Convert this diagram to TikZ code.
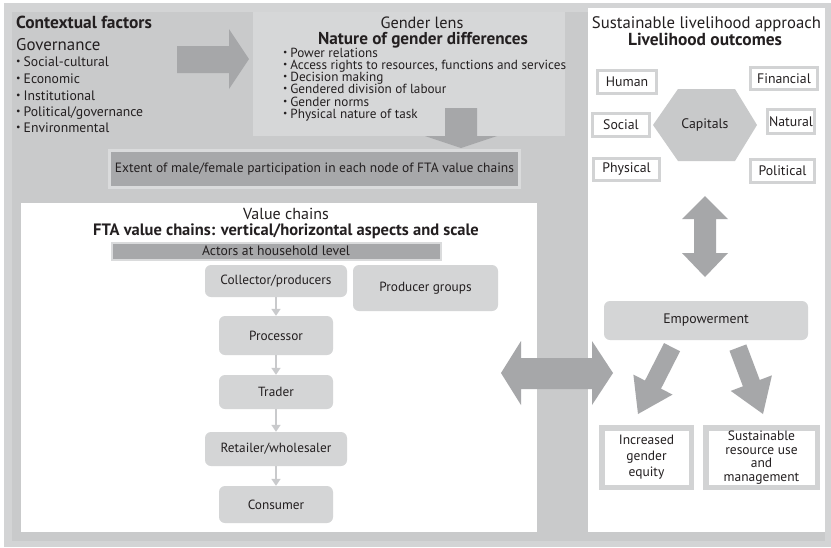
\documentclass[tikz,border=0pt]{standalone}
\usepackage{fontspec}
\setmainfont{PT Sans}
\usetikzlibrary{arrows.meta}
\definecolor{outerbg}{HTML}{D3D4D5}
\definecolor{midbg}{HTML}{C9CACB}
\definecolor{lensbg}{HTML}{D6D7D8}
\definecolor{darkbar}{HTML}{A7A8AA}
\definecolor{arrowgray}{HTML}{A6A7A9}
\definecolor{boxgray}{HTML}{D4D5D6}
\definecolor{hexgray}{HTML}{C8C9CA}
\definecolor{txt}{HTML}{231F20}
\definecolor{capborder}{HTML}{D2D3D4}
\definecolor{barborder}{HTML}{DADBDC}
\definecolor{smallarrow}{HTML}{C9CACC}
\newcommand{\bl}{\raisebox{0.2ex}{\scalebox{0.72}{•}}\hspace{0.22em}}
\newcommand{\fs}[1]{\fontsize{#1}{#1}\selectfont}
\begin{document}
\begin{tikzpicture}[x=1pt,y=-1pt,
  every node/.style={text=txt, inner sep=0pt},
  vcbox/.style={fill=boxgray, rounded corners=6pt, font=\fs{13.3}},
  capbox/.style={fill=white, draw=capborder, line width=3pt, font=\fs{13.8}},
  outbox/.style={fill=white, draw=capborder, line width=5.5pt, align=center},
  bararea/.style={fill=darkbar, draw=barborder},
  smallarr/.style={draw=smallarrow, line width=1.6pt, -{Triangle[length=7pt,width=9pt]}},
  blockarrow/.style={fill=arrowgray},
  listtext/.style={anchor=base west, font=\fs{13.7}},
  lenstext/.style={anchor=base west, font=\fs{13.2}}]
\useasboundingbox (0,0) rectangle (831,547);
% background layers
\fill[outerbg] (4,3) rectangle (831,547);
\fill[midbg] (12,12) rectangle (825,541);
\fill[lensbg] (253,12) rectangle (565,136);
\fill[white] (21,203) rectangle (537,532);
\fill[white] (588,8) rectangle (825,532);

% contextual factors
\node[anchor=base west, font=\bfseries\fs{17.4}] (ctx) at (16,28) {Contextual factors};
\node[anchor=base west, font=\fs{16.9}] (gov) at (16,50) {Governance};
\node[listtext] (c1) at (16,66) {\bl Social-cultural};
\node[listtext] (c2) at (16,83) {\bl Economic};
\node[listtext] (c3) at (16,100) {\bl Institutional};
\node[listtext] (c4) at (16,116) {\bl Political/governance};
\node[listtext] (c5) at (16,132) {\bl Environmental};

% right arrow
\fill[blockarrow] (177,46) -- (229,46) -- (229,29) -- (249,59) -- (229,89) -- (229,73) -- (177,73) -- cycle;

% gender lens
\node[anchor=base, font=\fs{16.3}] (gl) at (422,28) {Gender lens};
\node[anchor=base, font=\bfseries\fs{17.2}] (ngd) at (423,44) {Nature of gender differences};
\node[lenstext] (g1) at (283,57) {\bl Power relations};
\node[lenstext] (g2) at (283,69) {\bl Access rights to resources, functions and services};
\node[lenstext] (g3) at (283,81) {\bl Decision making};
\node[lenstext] (g4) at (283,93) {\bl Gendered division of labour};
\node[lenstext] (g5) at (283,106) {\bl Gender norms};
\node[lenstext] (g6) at (283,118) {\bl Physical nature of task};

% down arrow
\fill[blockarrow] (445,108) -- (477,108) -- (477,136) -- (497,136) -- (461,148) -- (425,136) -- (445,136) -- cycle;

% extent bar
\node[bararea, line width=3pt, minimum width=410pt, minimum height=37pt, font=\fs{13.5}] (ext) at (314.5,169) {Extent of male/female participation in each node of FTA value chains};

% value chains
\node[anchor=base, font=\fs{16}] (vc) at (286,219) {Value chains};
\node[anchor=base, font=\bfseries\fs{16.5}] (fta) at (286,235) {FTA value chains: vertical/horizontal aspects and scale};
\node[bararea, line width=2pt, minimum width=329pt, minimum height=17pt, font=\fs{13.7}] (act) at (276,251) {Actors at household level};

\node[vcbox, minimum width=142pt, minimum height=32pt] (coll) at (276,281) {Collector/producers};
\node[vcbox, minimum width=145pt, minimum height=46pt] (pg) at (425.5,288) {Producer groups};
\node[vcbox, minimum width=114pt, minimum height=39pt] (proc) at (276,335.5) {Processor};
\node[vcbox, minimum width=114pt, minimum height=34pt] (trad) at (276,392) {Trader};
\node[vcbox, minimum width=142pt, minimum height=34pt] (ret) at (276,449) {Retailer/wholesaler};
\node[vcbox, minimum width=114pt, minimum height=37pt] (cons) at (276,504.5) {Consumer};
\draw[smallarr] (coll) -- (proc);
\draw[smallarr] (proc) -- (trad);
\draw[smallarr] (trad) -- (ret);
\draw[smallarr] (ret) -- (cons);

% horizontal double arrow
\fill[blockarrow] (501,373) -- (521,341) -- (521,358) -- (592,358) -- (592,341) -- (613,373) -- (592,405) -- (592,389) -- (521,389) -- (521,405) -- cycle;

% sustainable livelihood
\node[anchor=base, font=\fs{16.7}] (sla) at (706.5,28) {Sustainable livelihood approach};
\node[anchor=base, font=\bfseries\fs{17.4}] (lo) at (705,45) {Livelihood outcomes};
\fill[hexgray] (653,125) -- (678,89) -- (735,89) -- (757,125) -- (735,161) -- (678,161) -- cycle;
\node[font=\fs{13.8}] (capitals) at (705,125) {Capitals};
\node[capbox, minimum width=59pt, minimum height=23pt] (human) at (627,82) {Human};
\node[capbox, minimum width=67pt, minimum height=22pt] (fin) at (784,78.5) {Financial};
\node[capbox, minimum width=57pt, minimum height=23pt] (soc) at (621,125) {Social};
\node[capbox, minimum width=47pt, minimum height=24pt] (nat) at (791,121.5) {Natural};
\node[capbox, minimum width=66pt, minimum height=22pt] (phys) at (626.5,169.5) {Physical};
\node[capbox, minimum width=64pt, minimum height=23pt] (pol) at (782.5,171) {Political};

% vertical double arrow
\fill[blockarrow] (705,196) -- (728,219) -- (716,219) -- (716,253) -- (728,253) -- (705,277) -- (682,253) -- (694,253) -- (694,219) -- (682,219) -- cycle;

\node[vcbox, minimum width=204pt, minimum height=39pt, font=\fs{13.8}] (emp) at (706,320.5) {Empowerment};

% diagonal arrows
\begin{scope}[shift={(638,414)}, rotate=-117]
\fill[blockarrow] (0,0) -- (-33,22) -- (-33,9) -- (-75,9) -- (-75,-9) -- (-33,-9) -- (-33,-22) -- cycle;
\end{scope}
\begin{scope}[shift={(763,414)}, rotate=-69.3]
\fill[blockarrow] (0,0) -- (-33,22) -- (-33,9) -- (-71,9) -- (-71,-9) -- (-33,-9) -- (-33,-22) -- cycle;
\end{scope}

% outcomes
\node[outbox, minimum width=89.5pt, minimum height=59.5pt, font=\fontsize{13.5}{16}\selectfont] (ige) at (646.5,457.5) {Increased\\gender\\equity};
\node[outbox, minimum width=111.5pt, minimum height=59.5pt, font=\fontsize{13.5}{13.7}\selectfont] (srum) at (761.5,457.5) {Sustainable\\resource use\\and\\management};
\end{tikzpicture}
\end{document}
